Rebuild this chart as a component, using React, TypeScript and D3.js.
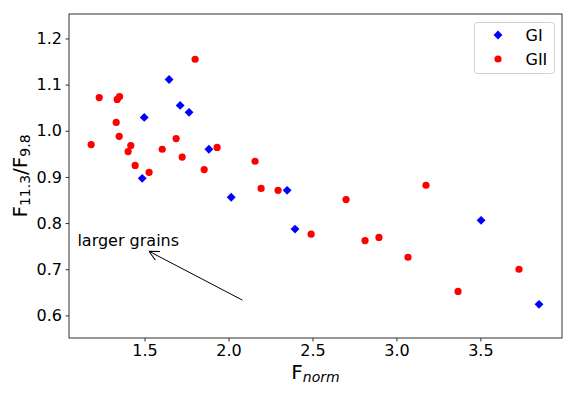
import React, { useEffect, useRef } from "react";
import * as d3 from "d3";

// GI sample (blue diamonds)
const giNorm = [1.646, 1.712, 1.765, 1.498, 1.883, 1.486, 2.016, 2.349, 2.396, 3.504, 3.849];
const giRatio = [1.111, 1.055, 1.04, 1.029, 0.96, 0.897, 0.856, 0.871, 0.787, 0.806, 0.624];

// GII sample (red circles)
const giiNorm = [
  1.801, 1.23, 1.337, 1.351, 1.331, 1.349, 1.182, 1.688, 1.418, 1.402, 1.605, 1.724, 1.932, 1.444,
  1.855, 1.527, 2.158, 2.194, 2.295, 2.7, 3.176, 2.492, 2.813, 2.896, 3.069, 3.367, 3.73,
];
const giiRatio = [
  1.155, 1.072, 1.068, 1.074, 1.018, 0.988, 0.97, 0.983, 0.968, 0.955, 0.96, 0.943, 0.964, 0.925,
  0.916, 0.91, 0.934, 0.875, 0.871, 0.851, 0.882, 0.776, 0.762, 0.769, 0.726, 0.652, 0.7,
];

const xTicks = [1.5, 2.0, 2.5, 3.0, 3.5];
const yTicks = [0.6, 0.7, 0.8, 0.9, 1.0, 1.1, 1.2];

const FONT = "DejaVu Sans, sans-serif";

const App = () => {
  const svgRef = useRef<SVGSVGElement>(null);
  const width = 576;
  const height = 396;

  useEffect(() => {
    const svg = d3.select(svgRef.current);
    svg.selectAll("*").remove();

    const left = 69;
    const right = 562;
    const top = 14;
    const bottom = 338;

    const x = d3.scaleLinear().domain([1.05, 3.986]).range([left, right]);
    const y = d3.scaleLinear().domain([0.551, 1.253]).range([bottom, top]);

    svg.append("rect").attr("width", width).attr("height", height).attr("fill", "#fff");

    // axes
    const xAxis = svg
      .append("g")
      .attr("transform", `translate(0,${bottom})`)
      .call(
        d3.axisBottom(x).tickValues(xTicks).tickFormat(d3.format(".1f")).tickSize(3.5).tickPadding(3.5)
      );
    const yAxis = svg
      .append("g")
      .attr("transform", `translate(${left},0)`)
      .call(
        d3.axisLeft(y).tickValues(yTicks).tickFormat(d3.format(".1f")).tickSize(3.5).tickPadding(3.5)
      );
    [xAxis, yAxis].forEach((g) => {
      g.select(".domain").remove();
      g.selectAll("line").attr("stroke", "#000").attr("stroke-width", 0.8);
      g.selectAll("text").attr("font-family", FONT).attr("font-size", 16).attr("fill", "#000");
    });

    // frame
    svg
      .append("rect")
      .attr("x", left)
      .attr("y", top)
      .attr("width", right - left)
      .attr("height", bottom - top)
      .attr("fill", "none")
      .attr("stroke", "#000")
      .attr("stroke-width", 0.8);

    const plot = svg.append("g");

    // GI diamonds
    const diamond = d3.symbol().type(d3.symbolDiamond2).size(50);
    plot
      .selectAll("path.gi")
      .data(giNorm.map((v, i) => [v, giRatio[i]]))
      .enter()
      .append("path")
      .attr("class", "gi")
      .attr("d", diamond)
      .attr("transform", (d) => `translate(${x(d[0])},${y(d[1])})`)
      .attr("fill", "#0000ff");

    // GII circles
    plot
      .selectAll("circle.gii")
      .data(giiNorm.map((v, i) => [v, giiRatio[i]]))
      .enter()
      .append("circle")
      .attr("class", "gii")
      .attr("cx", (d) => x(d[0]))
      .attr("cy", (d) => y(d[1]))
      .attr("r", 3.6)
      .attr("fill", "#ff0000");

    // annotation
    svg
      .append("defs")
      .append("marker")
      .attr("id", "arrowhead")
      .attr("viewBox", "0 0 10 10")
      .attr("refX", 10)
      .attr("refY", 5)
      .attr("markerWidth", 10)
      .attr("markerHeight", 10)
      .attr("markerUnits", "userSpaceOnUse")
      .attr("orient", "auto")
      .append("path")
      .attr("d", "M0,0 L10,5 L0,10")
      .attr("fill", "none")
      .attr("stroke", "#000")
      .attr("stroke-width", 1);

    svg
      .append("line")
      .attr("x1", x(2.083))
      .attr("y1", y(0.633))
      .attr("x2", x(1.526))
      .attr("y2", y(0.739))
      .attr("stroke", "#000")
      .attr("stroke-width", 1)
      .attr("marker-end", "url(#arrowhead)");

    svg
      .append("text")
      .attr("x", x(1.1))
      .attr("y", y(0.75))
      .attr("font-family", FONT)
      .attr("font-size", 16)
      .text("larger grains");

    // x label
    const xl = svg
      .append("text")
      .attr("x", (left + right) / 2)
      .attr("y", 379)
      .attr("text-anchor", "middle")
      .attr("font-family", FONT)
      .attr("font-size", 20);
    xl.append("tspan").text("F");
    xl.append("tspan")
      .attr("font-size", 14)
      .attr("font-style", "italic")
      .attr("dy", 3)
      .text("norm");

    // y label
    const yl = svg
      .append("text")
      .attr("transform", `translate(27,${(top + bottom) / 2}) rotate(-90)`)
      .attr("text-anchor", "middle")
      .attr("font-family", FONT)
      .attr("font-size", 20);
    yl.append("tspan").text("F");
    yl.append("tspan").attr("font-size", 14).attr("dy", 3).text("11.3");
    yl.append("tspan").attr("dy", -3).text("/F");
    yl.append("tspan").attr("font-size", 14).attr("dy", 3).text("9.8");

    // legend
    const legend = svg.append("g");
    legend
      .append("rect")
      .attr("x", 474.5)
      .attr("y", 22.5)
      .attr("width", 80)
      .attr("height", 51)
      .attr("rx", 3)
      .attr("fill", "#fff")
      .attr("fill-opacity", 0.8)
      .attr("stroke", "#d0d0d0")
      .attr("stroke-width", 1);
    legend
      .append("path")
      .attr("d", diamond)
      .attr("transform", "translate(498,35)")
      .attr("fill", "#0000ff");
    legend.append("circle").attr("cx", 498).attr("cy", 59).attr("r", 3.6).attr("fill", "#ff0000");
    legend
      .append("text")
      .attr("x", 525.5)
      .attr("y", 35)
      .attr("dy", "0.35em")
      .attr("font-family", FONT)
      .attr("font-size", 16)
      .text("GI");
    legend
      .append("text")
      .attr("x", 525.5)
      .attr("y", 59)
      .attr("dy", "0.35em")
      .attr("font-family", FONT)
      .attr("font-size", 16)
      .text("GII");
  }, []);

  return (
    <svg
      ref={svgRef}
      width={width}
      height={height}
      style={{ position: "absolute", left: 0, top: 0 }}
    ></svg>
  );
};

export default App;
